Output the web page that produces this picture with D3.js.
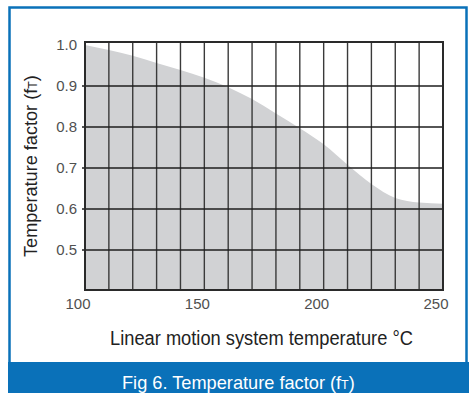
<!DOCTYPE html>
<html>
<head>
<meta charset="utf-8">
<script src="https://cdn.jsdelivr.net/npm/d3@7"></script>
<style>
  html, body { margin: 0; padding: 0; background: #fff; }
  svg { display: block; font-family: "Liberation Sans", Arial, Helvetica, sans-serif; }
</style>
</head>
<body>
<svg id="chart" width="471" height="393"></svg>
<script>
// ---- data ----
const temperatures = [100, 110, 120, 130, 140, 150, 160, 170, 180, 190, 200, 210, 220, 230, 240, 250];
const factors      = [1.0, 0.988, 0.974, 0.956, 0.939, 0.920, 0.897, 0.868, 0.833, 0.797, 0.758, 0.708, 0.661, 0.627, 0.616, 0.613];
const xTicks = [100, 150, 200, 250];
const xGrid = [100, 110, 120, 130, 140, 150, 160, 170, 180, 190, 200, 210, 220, 230, 240, 250];
const yTicks = [0.5, 0.6, 0.7, 0.8, 0.9, 1.0];
const xTitle = "Linear motion system temperature °C";
const yTitle = "Temperature factor (f";
const caption = "Fig 6. Temperature factor (f";
const subT = "T";

// ---- layout ----
const plot = { left: 85, right: 443, top: 42, bottom: 290 };
const blue = "#0a71b9";

const svg = d3.select("#chart");

// frame
svg.append("rect").attr("x", 9.5).attr("y", 7.5).attr("width", 457).attr("height", 360)
  .attr("fill", "#fff").attr("stroke", blue).attr("stroke-width", 2.5);

// caption bar
svg.append("rect").attr("x", 8).attr("y", 362).attr("width", 461).attr("height", 31).attr("fill", blue);

// helper: text scaled horizontally to a target width, centred at (cx, baseline) with optional rotation
function fitText(parent, cx, cy, rot, targetW, size, fill, parts) {
  const g = parent.append("g").attr("transform", `translate(${cx},${cy}) rotate(${rot})`);
  const t = g.append("text").attr("font-size", size).attr("fill", fill);
  parts.forEach(p => {
    const s = t.append("tspan").text(p.text);
    if (p.size) s.attr("font-size", p.size);
  });
  const w = t.node().getComputedTextLength();
  const sx = targetW / w;
  t.attr("transform", `scale(${sx},1) translate(${-w / 2},0)`);
  return g;
}

fitText(svg, 238.5, 389, 0, 233, 19, "#fff",
  [{ text: caption }, { text: subT, size: 13 }, { text: ")" }]);

// scales
const x = d3.scaleLinear().domain([100, 250]).range([plot.left, plot.right]);
const y = d3.scaleLinear().domain([0.5, 0.9]).range([250, 86]);

// area
const area = d3.area()
  .x((d, i) => x(temperatures[i]))
  .y0(plot.bottom)
  .y1(d => y(d))
  .curve(d3.curveMonotoneX);
svg.append("path").datum(factors).attr("d", area).attr("fill", "#d1d2d4");

// grid
svg.append("g").selectAll("line").data(xGrid).join("line")
  .attr("x1", d => x(d)).attr("x2", d => x(d))
  .attr("y1", plot.top).attr("y2", plot.bottom)
  .attr("stroke", "#3a3a3a").attr("stroke-width", 1.4);
svg.append("g").selectAll("line").data(yTicks.filter(v => v < 1)).join("line")
  .attr("x1", plot.left - 3).attr("x2", plot.right)
  .attr("y1", d => y(d)).attr("y2", d => y(d))
  .attr("stroke", "#1e1e1e").attr("stroke-width", 1.5);

// plot border
svg.append("rect").attr("x", plot.left).attr("y", plot.top)
  .attr("width", plot.right - plot.left).attr("height", plot.bottom - plot.top)
  .attr("fill", "none").attr("stroke", "#2a2a2a").attr("stroke-width", 2);

// y tick labels
svg.append("g").selectAll("text").data(yTicks).join("text")
  .attr("x", 77).attr("y", d => y(d) + 5)
  .attr("text-anchor", "end").attr("font-size", 15).attr("fill", "#505050")
  .text(d => d.toFixed(1));

// x tick labels
svg.append("g").selectAll("text").data(xTicks).join("text")
  .attr("x", d => x(d) - 7).attr("y", 309)
  .attr("text-anchor", "middle").attr("font-size", 15).attr("fill", "#505050")
  .text(d => d);

// x title
fitText(svg, 261.5, 345, 0, 303, 20, "#222", [{ text: xTitle }]);

// y title
fitText(svg, 37, 166, -90, 182, 19, "#222",
  [{ text: yTitle }, { text: subT, size: 13 }, { text: ")" }]);
</script>
</body>
</html>
